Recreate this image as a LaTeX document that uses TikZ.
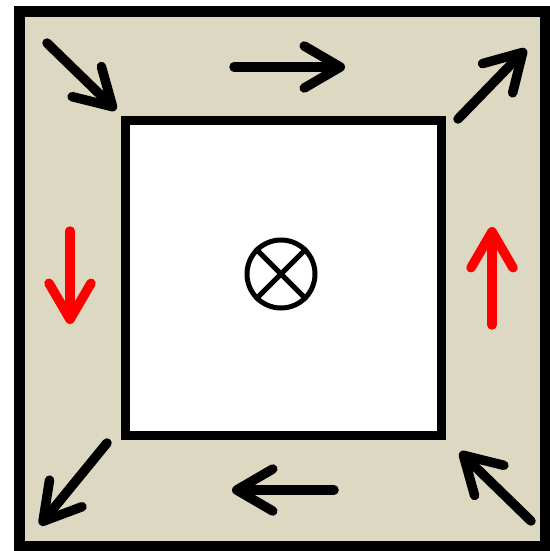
\documentclass[tikz,border=0pt]{standalone}
\usepackage{xcolor}
\usepackage{tikz}
\usetikzlibrary{arrows.meta}
\definecolor{frameBeige}{HTML}{DCD8C2}
\definecolor{flowRed}{HTML}{FF0000}

\begin{document}
\begin{tikzpicture}[
    x=1pt, y=-1pt,
    frame/.style={draw=black, line width=11pt},
    inner/.style={draw=black, line width=9pt, fill=white},
    flow/.style={line width=9.5pt, line cap=round,
                 -{Straight Barb[length=36pt, width=42pt, round]}},
]
\useasboundingbox (0,0) rectangle (549,551);
% outer frame and inner window
\draw[frame, fill=frameBeige] (19,12) rectangle (545,546);
\draw[inner] (125,120) rectangle (441,435);
% field into the page
\node[draw, circle, line width=5pt, minimum size=68pt, inner sep=0pt] (dot) at (281,274) {};
\draw[line width=5pt] (dot.north west) -- (dot.south east);
\draw[line width=5pt] (dot.north east) -- (dot.south west);
% corner arrows
\draw[flow] (47,43) -- (116,110);
\draw[flow] (458,119) -- (526,49);
\draw[flow] (531,521) -- (460,452);
\draw[flow] (107,443) -- (40,525);
% side arrows
\draw[flow] (234,67) -- (345,67);
\draw[flow] (334,490) -- (232,490);
\draw[flow, flowRed] (492,325) -- (492,227);
\draw[flow, flowRed] (70,231) -- (70,324);
\end{tikzpicture}
\end{document}
